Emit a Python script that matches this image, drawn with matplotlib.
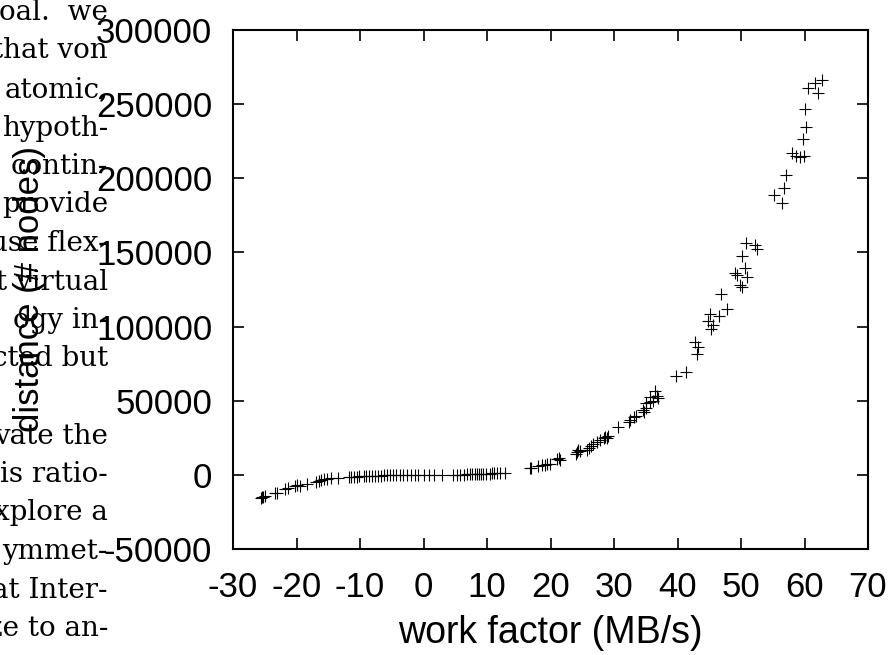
import matplotlib
matplotlib.use("Agg")
import matplotlib.pyplot as plt

plt.rcParams['axes.unicode_minus'] = False
plt.rcParams['font.family'] = ['Liberation Sans', 'DejaVu Sans']

# data: work factor (MB/s) vs distance (# nodes)
work_factor = [
    -25.6, -25.4, -25.2, -25.0, -23.4, -23.0, -21.8, -21.3, -20.2, -19.9, -19.4, -18.4,
    -16.9, -16.5, -16.1, -15.6, -15.2, -14.5, -13.4, -11.8, -11.4, -11.0, -10.5, -10.1,
    -9.4, -9.0, -8.6, -8.1, -7.6, -7.2, -6.7, -6.2, -5.7, -5.3, -4.8, -4.3, -3.7, -3.2,
    -2.6, -2.0, -1.4, -0.8, 0.0, 0.8, 1.6, 2.9, 4.7, 5.3, 5.8, 6.3, 6.8, 7.3, 7.7, 8.1,
    8.4, 8.7, 9.0, 9.3, 9.8, 10.5, 10.8, 11.1, 11.5, 12.0, 12.8,
    16.7, 17.0, 18.1, 18.6, 19.1, 19.4, 19.9, 21.1, 21.3, 21.5, 24.0, 24.1, 24.4, 24.6,
    25.7, 26.1, 26.3, 26.7, 27.3, 27.8, 28.4, 28.6, 28.9, 29.1, 30.7, 32.3, 32.5, 33.1,
    33.5, 34.6, 34.8, 35.1, 35.1, 35.6, 35.7, 36.2, 36.5, 36.7, 36.9,
    39.8, 41.3, 42.8, 43.3, 43.1, 44.8, 45.1, 45.2, 45.6, 46.5, 46.9, 47.8, 49.1, 49.3,
    49.9, 50.2, 50.6, 51.0, 50.2, 50.8, 52.2, 52.5, 55.2, 56.5, 56.7, 57.1, 58.1, 58.7,
    59.3, 59.9, 59.8, 60.3, 60.0, 60.5, 61.7, 62.1, 62.7,
]
distance = [
    -15300, -14800, -14600, -14200, -12400, -11900, -9700, -9000, -7500, -7000, -7400, -6300,
    -4700, -4100, -3600, -3100, -2900, -2300, -2000, -1600, -1400, -1300, -1200, -1100,
    -1000, -900, -800, -700, -650, -600, -500, -400, -350, -300, -250, -200, -150, -100,
    -50, -20, 0, 0, 0, 0, 20, 30, 100, 120, 150, 200, 250, 300, 350, 450,
    500, 550, 600, 650, 750, 900, 950, 1000, 1100, 1200, 1400,
    4500, 4800, 6000, 6500, 6800, 7600, 7400, 10800, 11200, 10300, 13900, 15300, 16600, 16200,
    17100, 18400, 19200, 20500, 22300, 23800, 24600, 25400, 24900, 26200, 32000, 35900, 37000, 38800,
    39900, 43800, 42300, 48700, 45000, 52700, 49400, 49800, 56800, 53300, 51500,
    66900, 69600, 89900, 86100, 81600, 103800, 108400, 98200, 101200, 107200, 122100, 111700, 136000, 134900,
    128100, 126600, 139500, 133100, 147700, 156300, 155100, 152200, 188900, 183300, 193400, 202400, 217000, 214700,
    214300, 214700, 226600, 234500, 247000, 261000, 264000, 257500, 266000,
]

x_ticks = [-30, -20, -10, 0, 10, 20, 30, 40, 50, 60, 70]
y_ticks = [-50000, 0, 50000, 100000, 150000, 200000, 250000, 300000]

# background paper text (fragment visible at left edge)
paper_lines = [
    "oal.  we", "that von", "atomic,", "hypoth-", "contin-", "provide", "use flex-",
    "t virtual", "ogy in-", "cted but", "", "vate the", "is ratio-", "xplore a",
    "ymmet-", "at Inter-", "ze to an-",
]

W, H = 894, 655
fig = plt.figure(figsize=(W / 100, H / 100), dpi=100)

for i, line in enumerate(paper_lines):
    yb = 20 + 38.5 * i
    fig.text(108 / W, 1 - yb / H, line, ha='right', va='baseline',
             fontsize=20, family='DejaVu Serif', color='black')

ax = fig.add_axes([233 / W, 1 - 549 / H, (868 - 233) / W, (549 - 30) / H])
ax.patch.set_alpha(0)
ax.scatter(work_factor, distance, marker='+', s=70, linewidths=0.8, color='black')

ax.set_xlim(-30, 70)
ax.set_ylim(-50000, 300000)
ax.set_xticks(x_ticks)
ax.set_xticklabels([str(v) for v in x_ticks])
ax.set_yticks(y_ticks)
ax.set_yticklabels([str(v) for v in y_ticks])
ax.tick_params(direction='in', length=8, width=1.2, top=True, right=True,
               labelsize=25, pad=15)
ax.tick_params(axis='x', pad=16)
for s in ax.spines.values():
    s.set_linewidth(1.5)

fig.text(550 / W, 1 - 633 / H, "work factor (MB/s)", ha='center', va='center', fontsize=27)
fig.text(30 / W, 1 - 289 / H, "distance (# nodes)", rotation=90, ha='center', va='center',
         fontsize=25)

fig.savefig("out.png", dpi=100)
